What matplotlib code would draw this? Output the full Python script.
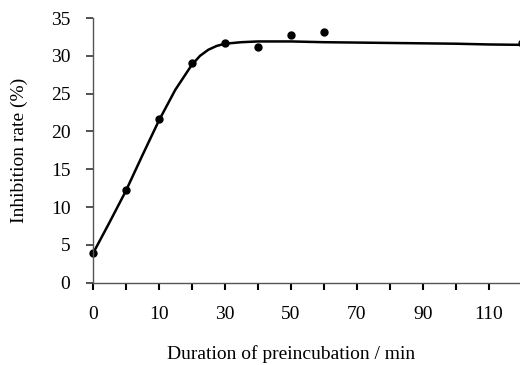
import matplotlib
matplotlib.use('Agg')
import matplotlib.pyplot as plt
import numpy as np

# category axis (Excel style), only every other label shown
categories = [0, 5, 10, 20, 30, 40, 50, 60, 70, 80, 90, 100, 110, 120]
tick_labels = ['0', '', '10', '', '30', '', '50', '', '70', '', '90', '', '110', '']

# measured points
time_min = [0, 5, 10, 20, 30, 40, 50, 60, 120]
inhibition = [3.9, 12.2, 21.7, 29.1, 31.7, 31.1, 32.7, 33.1, 31.7]

# fitted curve at category positions
curve_pos = [0, 0.5, 1, 1.5, 2, 2.5, 3, 3.25, 3.5, 3.75, 4, 4.5, 5, 6, 7, 8, 9, 10, 11, 12, 13]
curve_val = [3.8, 7.9, 12.1, 16.8, 21.4, 25.5, 28.8, 30.0, 30.8, 31.3, 31.6, 31.8, 31.9, 31.9,
             31.8, 31.75, 31.7, 31.65, 31.6, 31.5, 31.45]

plt.rcParams['font.family'] = ['Liberation Serif', 'DejaVu Serif']

fig = plt.figure(figsize=(5.2, 3.65), dpi=100)
ax = fig.add_axes([92.7 / 520, 82.3 / 365, 427.3 / 520, 264.7 / 365])

ax.plot(curve_pos, curve_val, color='black', lw=1.8, solid_capstyle='round')
pos = [categories.index(t) for t in time_min]
ax.plot(pos, inhibition, 'o', color='black', ms=5, clip_on=False)

ax.set_xlim(0, 427.3 / 33.03)
ax.set_ylim(0, 35)
ax.set_xticks(range(13))
ax.set_xticklabels(tick_labels[:13])
ax.set_yticks(range(0, 36, 5))

for s in ['top', 'right']:
    ax.spines[s].set_visible(False)
for s in ['left', 'bottom']:
    ax.spines[s].set_color('#555555')
    ax.spines[s].set_linewidth(1.0)

ax.tick_params(axis='x', direction='out', length=5, width=1.5, color='black', pad=12, labelsize=14)
ax.tick_params(axis='y', direction='out', length=5, width=1.2, color='#333333', pad=11, labelsize=14)

ax.set_xlabel('Duration of preincubation / min', fontsize=14)
ax.set_ylabel('Inhibition rate (%)', fontsize=14)
ax.xaxis.set_label_coords((291.5 - 92.7) / 427.3, (282.7 - 345) / 264.7)
ax.yaxis.set_label_coords((28 - 92.7) / 427.3, 0.5)

fig.savefig('out.png', dpi=100)
